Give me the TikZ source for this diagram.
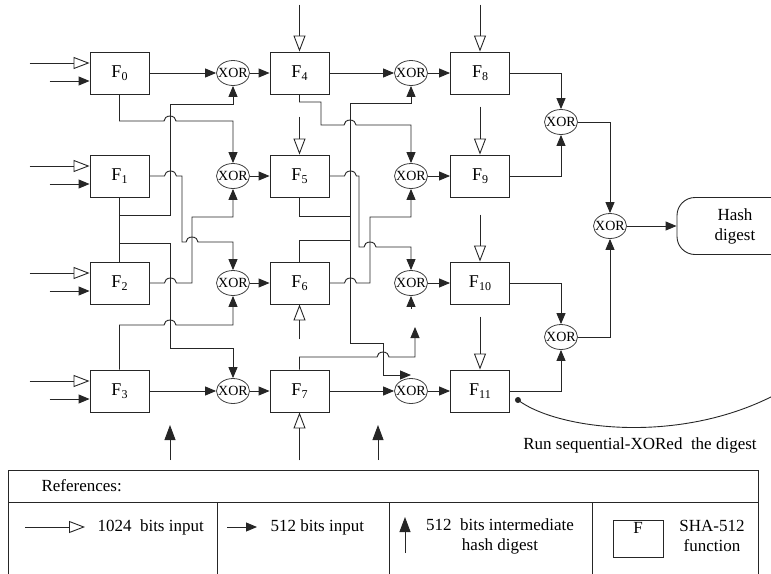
\documentclass[tikz,border=0pt]{standalone}
\usepackage{fontspec}
\setmainfont{Liberation Serif}
\usetikzlibrary{arrows.meta,shapes.geometric}

\newcommand{\Fn}[1]{{\fontsize{18}{20}\selectfont F}\raisebox{-3pt}{\fontsize{12}{12}\selectfont #1}}
\newcommand{\xo}{\makebox[0pt]{XOR}}
\newcommand{\hop}{arc[start angle=180,end angle=360,x radius=6,y radius=5]}

\tikzset{
  wire/.style={draw=black!85,line width=0.9pt},
  arr/.style={wire,-{Triangle[length=11pt,width=9pt]}},
  openarr/.style={wire,-{Triangle[open,length=16pt,width=12pt]}},
  uparr/.style={wire,-{Triangle[length=15pt,width=11pt]}},
  fbox/.style={draw=black!85,line width=0.9pt,minimum width=59pt,minimum height=42pt,inner sep=0pt},
  xorgate/.style={draw=black!75,ellipse,line width=0.8pt,minimum width=33pt,minimum height=25pt,inner sep=0pt,font=\fontsize{14}{14}\selectfont}
}

\begin{document}
\begin{tikzpicture}[x=1pt,y=-1pt,font=\fontsize{17}{20}\selectfont]
  \useasboundingbox (0,0) rectangle (771,573);
  % SHA-512 blocks
  \node[fbox] (F0) at (119.5,73) {\Fn{0}};
  \node[fbox] (F1) at (119.5,176) {\Fn{1}};
  \node[fbox] (F2) at (119.5,283) {\Fn{2}};
  \node[fbox] (F3) at (119.5,391) {\Fn{3}};
  \node[fbox] (F4) at (299.5,73) {\Fn{4}};
  \node[fbox] (F5) at (299.5,176) {\Fn{5}};
  \node[fbox] (F6) at (299.5,283) {\Fn{6}};
  \node[fbox] (F7) at (299.5,391) {\Fn{7}};
  \node[fbox] (F8) at (480,73) {\Fn{8}};
  \node[fbox] (F9) at (480,176) {\Fn{9}};
  \node[fbox] (F10) at (480,283) {\Fn{10}};
  \node[fbox] (F11) at (480,391) {\Fn{11}};
  % XOR gates
  \node[xorgate] (X0) at (233,73) {\xo};
  \node[xorgate] (X1) at (233,176) {\xo};
  \node[xorgate] (X2) at (233,283) {\xo};
  \node[xorgate] (X3) at (233,391) {\xo};
  \node[xorgate] (X4) at (411,73) {\xo};
  \node[xorgate] (X5) at (411,176) {\xo};
  \node[xorgate] (X6) at (411,283) {\xo};
  \node[xorgate] (X7) at (411,391) {\xo};
  \node[xorgate] (X8) at (561,122) {\xo};
  \node[xorgate] (X9) at (561,337) {\xo};
  \node[xorgate] (X10) at (610,226) {\xo};
  \node[draw=black!85,line width=0.9pt,rounded corners=18pt,minimum width=116pt,minimum height=57pt,align=center] (hash) at (735,226) {Hash\\digest};
  % 1024 and 512 bit inputs
  \draw[openarr] ([xshift=-60pt,yshift=10pt]F0.west) -- ([yshift=10pt]F0.west);
  \draw[arr] ([xshift=-40pt,yshift=-8pt]F0.west) -- ([yshift=-8pt]F0.west);
  \draw[openarr] ([xshift=-60pt,yshift=10pt]F1.west) -- ([yshift=10pt]F1.west);
  \draw[arr] ([xshift=-40pt,yshift=-8pt]F1.west) -- ([yshift=-8pt]F1.west);
  \draw[openarr] ([xshift=-60pt,yshift=10pt]F2.west) -- ([yshift=10pt]F2.west);
  \draw[arr] ([xshift=-40pt,yshift=-8pt]F2.west) -- ([yshift=-8pt]F2.west);
  \draw[openarr] ([xshift=-60pt,yshift=10pt]F3.west) -- ([yshift=10pt]F3.west);
  \draw[arr] ([xshift=-40pt,yshift=-8pt]F3.west) -- ([yshift=-8pt]F3.west);
  \draw[openarr] ([yshift=47pt]F4.north) -- (F4.north);
  \draw[openarr] ([yshift=38pt]F5.north) -- (F5.north);
  \draw[openarr] ([yshift=-35pt]F6.south) -- (F6.south);
  \draw[openarr] ([yshift=-48pt]F7.south) -- (F7.south);
  \draw[openarr] ([yshift=47pt]F8.north) -- (F8.north);
  \draw[openarr] ([yshift=48pt]F9.north) -- (F9.north);
  \draw[openarr] ([yshift=47pt]F10.north) -- (F10.north);
  \draw[openarr] ([yshift=53pt]F11.north) -- (F11.north);
  \draw[uparr] (170,460) -- (170,425);
  \draw[uparr] (378,460) -- (378,425);
  % first round
  \draw[arr] (F0) -- (X0);
  \draw[arr] (F3) -- (X3);
  \draw[arr] (F0.south) |- (164,121) \hop -| (X1.north);
  \draw[wire] (F1.south) -- (F2.north);
  \draw[arr] (F1.south) |- (170,215) -- (170,104) -| (X0.south);
  \draw[arr] (F1.east) -- ++(15,0) \hop -- (182,176) -- (182,242) -- (186,242) \hop -| (X2.north);
  \draw[arr] (F2.east) -- ++(15,0) \hop -- (192,283) -- (192,217) -| (X1.south);
  \draw[arr] (F2.north) |- (170,243) -- (170,348) -| (X3.north);
  \draw[arr] (F3.north) |- (164,325) \hop -| (X2.south);
  \draw[arr] (X0) -- (F4);
  \draw[arr] (X1) -- (F5);
  \draw[arr] (X2) -- (F6);
  \draw[arr] (X3) -- (F7);
  % second round
  \draw[arr] (F4) -- (X4);
  \draw[arr] (F7) -- (X7);
  \draw[arr] (F4.south) |- (321,102) |- (344,125) \hop -| (X5.north);
  \draw[arr] (F5.south) |- (350,216) -- (350,103) -| (X4.south);
  \draw[wire] (350,216) -- (350,240);
  \draw[arr] (F5.east) -- ++(15,0) \hop -- (359,176) -- (359,247) -- (364,247) \hop -| (X6.north);
  \draw[arr] (F6.east) -- ++(15,0) \hop -- (370,283) -- (370,217) -| (X5.south);
  \draw[arr] (F6.north) |- (350,240) -- (350,343) -| (383,375) -- (X7.north |- 0,375);
  \draw[arr] (F7.north) |- (377,357) \hop -- (415,357) -- (415,327);
  \draw[arr] ([yshift=-13pt]X6.south) -- (X6.south);
  \draw[arr] (X4) -- (F8);
  \draw[arr] (X5) -- (F9);
  \draw[arr] (X6) -- (F10);
  \draw[arr] (X7) -- (F11);
  % final XOR tree
  \draw[arr] (F8.east) -| (X8.north);
  \draw[arr] (F9.east) -| (X8.south);
  \draw[arr] (F10.east) -| (X9.north);
  \draw[arr] (F11.east) -| (X9.south);
  \draw[arr] (X8.east) -| (X10.north);
  \draw[arr] (X9.east) -| (X10.south);
  \draw[arr] (X10) -- (hash);
  % feedback
  \coordinate (fbk) at ([xshift=8pt,yshift=-9pt]F11.east);
  \coordinate (fbend) at (800,380);
  \fill[black!85] (fbk) circle (3);
  \draw[wire] (fbk) .. controls (560,432) and (700,448) .. (fbend);
  \node (runtxt) at (640,445) {Run sequential-XORed~ the digest};
  % references table
  \draw[wire] (8,470) rectangle (758,590);
  \draw[wire] (8,502) -- (758,502);
  \draw[wire] (217,502) -- (217,590);
  \draw[wire] (389,502) -- (389,590);
  \draw[wire] (592,502) -- (592,590);
  \node[anchor=west] (refs) at (38,486) {References:};
  \draw[openarr] (25,527) -- (85,527);
  \node[anchor=west] (t1) at (94,527) {1024~ bits input};
  \draw[arr] (227,527) -- (257,527);
  \node[anchor=west] (t2) at (267,527) {512 bits input};
  \draw[uparr] (405,553) -- (405,517);
  \node[align=center] (t3) at (500,536) {512~ bits intermediate\\hash digest};
  \node[draw=black!85,line width=0.9pt,minimum width=50pt,minimum height=37pt] (Fref) at (638,538.5) {};
  \node[anchor=north,inner sep=3pt] (Flbl) at (Fref.north) {F};
  \node[align=center] (t4) at (712,536) {SHA-512\\function};
\end{tikzpicture}
\end{document}
